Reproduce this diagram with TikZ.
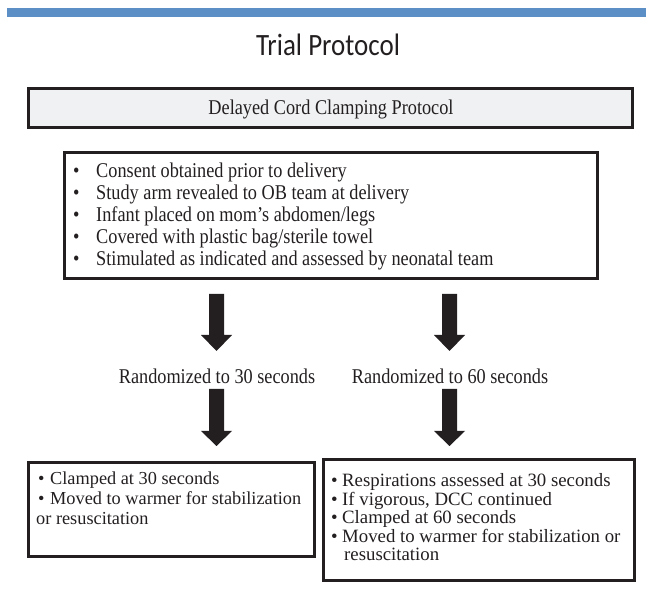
\documentclass[tikz,border=0pt]{standalone}
\usepackage{fontspec}
\setmainfont{Liberation Serif}[FakeStretch=0.87]
\newfontfamily\titlefont{Carlito}[FakeStretch=0.87]
\newfontfamily\plainserif{Liberation Serif}
\definecolor{ink}{HTML}{231F20}
\definecolor{barblue}{HTML}{5B8FC5}
\definecolor{boxgray}{HTML}{F0F1F3}
\begin{document}
\begin{tikzpicture}[x=1pt,y=-1pt,
  frame/.style={draw=ink,line width=3pt,inner sep=0pt},
  txt/.style={anchor=base west,inner sep=0pt,text=ink,font=\fontsize{21}{24}\selectfont},
  ctxt/.style={anchor=base,inner sep=0pt,text=ink,font=\fontsize{21}{24}\selectfont},
  stxt/.style={anchor=base west,inner sep=0pt,text=ink,font=\plainserif\fontsize{18.3}{20}\selectfont},
  rtxt/.style={anchor=base west,inner sep=0pt,text=ink,font=\plainserif\fontsize{18.8}{20}\selectfont},
  blk/.style={fill=ink}]
\useasboundingbox (0,0) rectangle (646,593);
% top bar
\fill[barblue] (7,8) rectangle (646,17);
\node[anchor=base,inner sep=0pt,text=ink,font=\titlefont\fontsize{31}{34}\selectfont] (title) at (328,56) {Trial Protocol};
% box 1
\draw[frame,fill=boxgray] (28.5,88.5) rectangle (632.5,127.5);
\node[ctxt] (b1t) at (331,114.5) {Delayed Cord Clamping Protocol};
% box 2
\draw[frame] (64.5,152.5) rectangle (597.5,278.5);
\node[txt] (b2bul1) at (73,178) {\textbullet};
\node[txt] (b2l1) at (96,178) {Consent obtained prior to delivery};
\node[txt] (b2bul2) at (73,200) {\textbullet};
\node[txt] (b2l2) at (96,200) {Study arm revealed to OB team at delivery};
\node[txt] (b2bul3) at (73,222) {\textbullet};
\node[txt] (b2l3) at (96,222) {Infant placed on mom’s abdomen/legs};
\node[txt] (b2bul4) at (73,244) {\textbullet};
\node[txt] (b2l4) at (96,244) {Covered with plastic bag/sterile towel};
\node[txt] (b2bul5) at (73,266) {\textbullet};
\node[txt] (b2l5) at (96,266) {Stimulated as indicated and assessed by neonatal team};
% arrows
\foreach \cx/\top/\hs/\tip/\nm in {216.5/294/335/351/a1, 449.5/294/335/351/a2, 216.5/389/431/446/a3, 449.5/389/431/446/a4}{
  \coordinate (\nm) at (\cx,\tip);
  \fill[blk] (\cx-7.5,\top) -- (\cx+7.5,\top) -- (\cx+7.5,\hs) -- (\cx+15.5,\hs)
     -- (\nm) -- (\cx-15.5,\hs) -- (\cx-7.5,\hs) -- cycle;
}
\node[ctxt] (r30) at (217,384) {Randomized to 30 seconds};
\node[ctxt] (r60) at (450,384) {Randomized to 60 seconds};
% box 3
\draw[frame] (28.5,462.5) rectangle (314.5,556.5);
\node[stxt] (b3bul1) at (38,485) {\textbullet};
\node[stxt] (b3l1) at (50,485) {Clamped at 30 seconds};
\node[stxt] (b3bul2) at (38,505) {\textbullet};
\node[stxt] (b3l2) at (50,505) {Moved to warmer for stabilization};
\node[stxt] (b3l3) at (36,524.5) {or resuscitation};
% box 4
\draw[frame] (323.5,459.5) rectangle (634.5,580.5);
\node[rtxt] (b4bul1) at (331,487) {\textbullet};
\node[rtxt] (b4l1) at (342,487) {Respirations assessed at 30 seconds};
\node[rtxt] (b4bul2) at (331,505.5) {\textbullet};
\node[rtxt] (b4l2) at (342,505.5) {If vigorous, DCC continued};
\node[rtxt] (b4bul3) at (331,524) {\textbullet};
\node[rtxt] (b4l3) at (342,524) {Clamped at 60 seconds};
\node[rtxt] (b4bul4) at (331,542.5) {\textbullet};
\node[rtxt] (b4l4) at (342,542.5) {Moved to warmer for stabilization or};
\node[rtxt] (b4l5) at (344,561) {resuscitation};
\end{tikzpicture}
\end{document}
